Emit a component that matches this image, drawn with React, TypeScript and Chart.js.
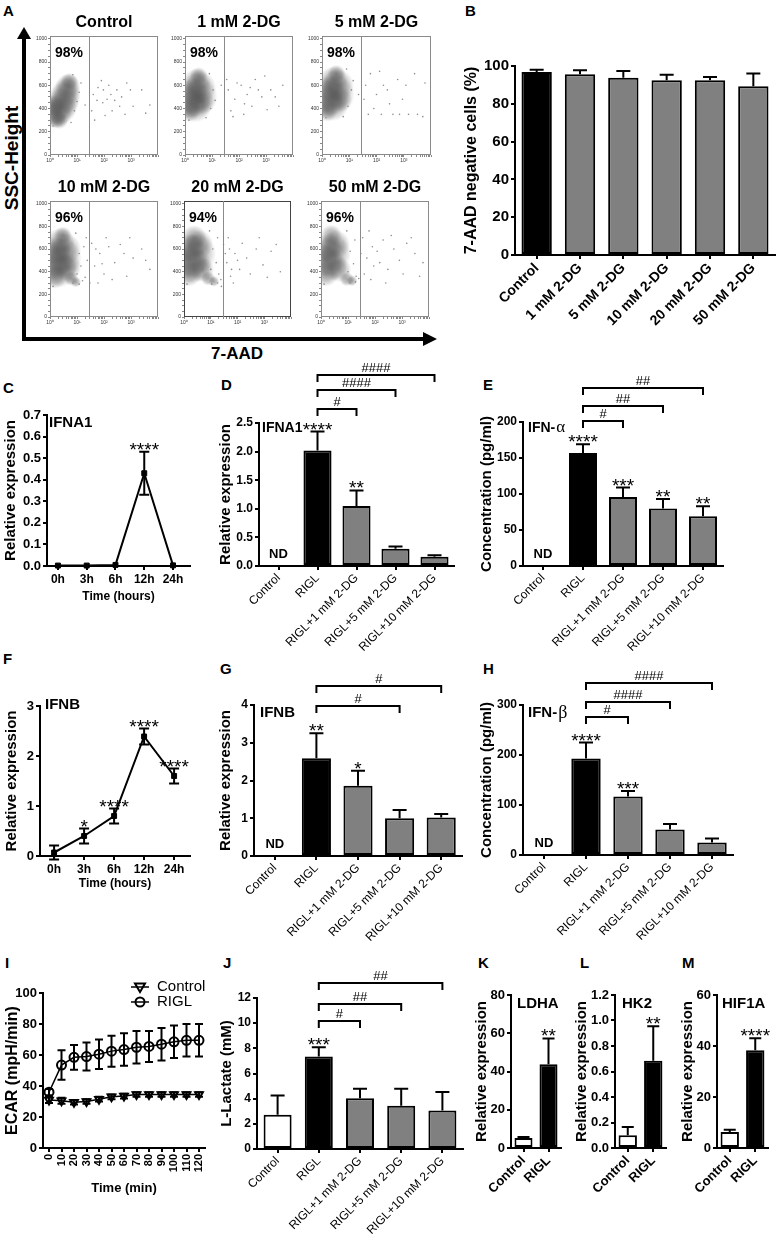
import React, { useEffect, useRef } from "react";
import { Chart, registerables } from "chart.js";

Chart.register(...registerables);

const FONT = "'Liberation Sans', Arial, Helvetica, sans-serif";
const SERIF = "'Liberation Serif', 'DejaVu Serif', 'Times New Roman', serif";
const BLACK = "#000000";
const GRAY = "#808080";
const WHITE = "#ffffff";

// ================= DATA =================
// ---- A: flow cytometry (7-AAD vs SSC-Height) ----
const flowTitles = ["Control", "1 mM 2-DG", "5 mM 2-DG", "10 mM 2-DG", "20 mM 2-DG", "50 mM 2-DG"];
const flowPercents = ["98%", "98%", "98%", "96%", "94%", "96%"];
const flowGate = 28;
const flowXTickValues = [1, 10, 100, 1000];
const flowXTickLabels = ["10\u2070", "10\u00b9", "10\u00b2", "10\u00b3"];
const flowYTicks = [0, 200, 400, 600, 800, 1000];
// dense populations: [7-AAD, SSC-Height, spread]
const flowCloudControl = [[1.5, 320, 6], [1.9, 360, 8], [2.4, 400, 9], [2.9, 440, 9], [3.4, 490, 9], [4.0, 540, 8], [4.6, 590, 7], [5.2, 630, 5], [1.4, 420, 6], [2.2, 300, 5]];
const flowCloud1mM = [[1.6, 460, 9], [2.4, 420, 9], [3.0, 500, 11], [3.6, 580, 9], [2.6, 620, 8], [2.0, 540, 8], [4.2, 460, 7], [1.5, 380, 6], [3.2, 680, 5]];
const flowCloud5mM = [[1.6, 470, 9], [2.4, 430, 9], [3.0, 520, 11], [3.8, 600, 9], [2.6, 640, 8], [2.0, 560, 8], [4.4, 480, 7], [1.5, 380, 6], [3.4, 700, 5]];
const flowCloud10mM = [[1.5, 480, 10], [2.2, 420, 10], [2.8, 520, 11], [3.6, 600, 9], [2.4, 660, 8], [1.8, 580, 8], [4.2, 440, 8], [1.5, 360, 7], [3.0, 720, 5], [6, 340, 4], [9, 310, 3]];
const flowCloud20mM = [[1.6, 500, 10], [2.3, 460, 10], [2.9, 560, 11], [3.6, 640, 8], [2.4, 700, 7], [1.8, 610, 8], [4.5, 420, 7], [1.5, 380, 7], [8, 340, 4], [13, 315, 3]];
const flowCloud50mM = [[1.6, 500, 9], [2.3, 460, 9], [2.8, 560, 10], [3.5, 640, 8], [2.4, 720, 6], [1.8, 610, 8], [4.5, 420, 7], [1.5, 380, 7], [9, 335, 4], [14, 320, 3]];
// scattered events: [7-AAD, SSC-Height]
const flowDotsControl = [[40, 520], [60, 580], [90, 450], [150, 600], [200, 380], [300, 560], [450, 500], [700, 620], [1200, 420], [2500, 560], [35, 380], [110, 340], [600, 350], [5000, 430], [80, 640], [250, 470], [45, 300], [180, 520], [8, 380], [10, 460], [12, 540], [7, 690], [14, 620], [1.3, 250], [6, 280], [20, 430], [130, 480], [380, 420], [950, 560], [3500, 360], [55, 470], [95, 560]];
const flowDots1mM = [[40, 560], [70, 480], [120, 600], [200, 520], [400, 650], [700, 500], [1500, 560], [3000, 420], [50, 380], [300, 420], [900, 680], [150, 350], [35, 650], [2200, 500], [9, 400], [11, 560], [8, 700], [13, 470], [1.4, 300], [6, 320], [22, 600], [85, 620], [160, 440], [520, 560], [1100, 390], [4200, 600], [60, 330], [260, 580]];
const flowDots5mM = [[40, 600], [60, 700], [100, 520], [150, 350], [250, 560], [400, 350], [600, 650], [900, 480], [1500, 350], [2500, 700], [5000, 330], [80, 400], [300, 440], [6000, 620], [35, 480], [9, 420], [12, 560], [8, 740], [14, 640], [1.4, 320], [6, 330], [22, 520], [180, 600], [700, 350], [1200, 600], [3200, 350], [50, 350], [130, 720]];
const flowDots10mM = [[20, 350], [35, 650], [45, 450], [70, 560], [100, 380], [150, 620], [250, 480], [400, 640], [700, 360], [1200, 520], [2500, 600], [5000, 420], [60, 300], [30, 300], [24, 500], [22, 700], [10, 380], [12, 560], [9, 740], [14, 450], [16, 320], [1.3, 270], [18, 620], [85, 470], [200, 330], [550, 560], [900, 700], [3500, 500], [50, 600], [120, 700], [12, 290], [7, 300]];
const flowDots20mM = [[35, 560], [50, 600], [60, 420], [45, 700], [100, 500], [150, 650], [300, 380], [500, 600], [900, 460], [1800, 580], [4000, 400], [25, 270], [70, 300], [40, 480], [30, 640], [10, 420], [12, 600], [9, 760], [16, 480], [20, 380], [1.3, 290], [18, 700], [80, 560], [220, 520], [650, 700], [1300, 350], [2800, 640], [55, 360], [120, 420], [18, 300], [11, 290], [24, 330]];
const flowDots50mM = [[35, 700], [50, 520], [80, 620], [120, 580], [200, 680], [300, 420], [500, 600], [800, 500], [1500, 650], [3000, 560], [6000, 480], [40, 380], [250, 300], [30, 560], [60, 760], [10, 400], [12, 580], [9, 760], [16, 470], [20, 360], [1.3, 290], [18, 680], [90, 450], [400, 720], [1100, 380], [2200, 700], [4500, 360], [70, 330], [150, 480], [19, 310], [12, 300], [25, 340]];
const flowClouds = [flowCloudControl, flowCloud1mM, flowCloud5mM, flowCloud10mM, flowCloud20mM, flowCloud50mM];
const flowDots = [flowDotsControl, flowDots1mM, flowDots5mM, flowDots10mM, flowDots20mM, flowDots50mM];

// ---- B ----
const bCategories = ["Control", "1 mM 2-DG", "5 mM 2-DG", "10 mM 2-DG", "20 mM 2-DG", "50 mM 2-DG"];
const bValues = [96.8, 95.6, 93.8, 92.4, 92.4, 89.3];
const bErrors = [1.2, 2.1, 3.6, 3.0, 1.8, 6.7];
const bYTicks = [0, 20, 40, 60, 80, 100];

// ---- shared categories ----
const rCategories = ["Control", "RIGL", "RIGL+1 mM 2-DG", "RIGL+5 mM 2-DG", "RIGL+10 mM 2-DG"];
const timeCategories = ["0h", "3h", "6h", "12h", "24h"];

// ---- C ----
const cValues = [0.002, 0.002, 0.005, 0.43, 0.003];
const cErrors = [0, 0, 0.002, 0.1, 0.002];
const cStars = ["", "", "", "****", ""];
const cYTicks = [0, 0.1, 0.2, 0.3, 0.4, 0.5, 0.6, 0.7];

// ---- D ----
const dValues = [null, 2.02, 1.05, 0.3, 0.16];
const dErrors = [0, 0.33, 0.27, 0.04, 0.03];
const dStars = ["", "****", "**", "", ""];
const dBracketTargets = [2, 3, 4];
const dBracketLabels = ["#", "####", "####"];
const dBracketLevels = [2.745, 3.07, 3.34];
const dYTicks = [0, 0.5, 1, 1.5, 2, 2.5];

// ---- E ----
const eValues = [null, 157, 96, 80, 69];
const eErrors = [0, 12, 13, 13, 14];
const eStars = ["", "****", "***", "**", "**"];
const eBracketTargets = [2, 3, 4];
const eBracketLabels = ["#", "##", "##"];
const eBracketLevels = [202, 222, 247];
const eYTicks = [0, 50, 100, 150, 200];

// ---- F ----
const fValues = [0.07, 0.4, 0.8, 2.39, 1.6];
const fErrors = [0.14, 0.15, 0.15, 0.16, 0.15];
const fStars = ["", "*", "****", "****", "****"];
const fYTicks = [0, 1, 2, 3];

// ---- G ----
const gValues = [null, 2.59, 1.86, 1.0, 1.02];
const gErrors = [0, 0.66, 0.4, 0.22, 0.09];
const gStars = ["", "**", "*", "", ""];
const gBracketTargets = [3, 4];
const gBracketLabels = ["#", "#"];
const gBracketLevels = [3.97, 4.5];
const gYTicks = [0, 1, 2, 3, 4];

// ---- H ----
const hValues = [null, 193, 117, 51, 25];
const hErrors = [0, 32, 11, 11, 8];
const hStars = ["", "****", "***", "", ""];
const hBracketTargets = [2, 3, 4];
const hBracketLabels = ["#", "####", "####"];
const hBracketLevels = [276, 306, 344];
const hYTicks = [0, 100, 200, 300];

// ---- I ----
const iTimes = [0, 10, 20, 30, 40, 50, 60, 70, 80, 90, 100, 110, 120];
const iControl = [31, 30.5, 29.5, 30, 31.5, 33, 33.5, 34.5, 34.5, 34.5, 34.5, 34.5, 34.5];
const iControlErr = [2, 2, 1.5, 1.5, 1.5, 1.5, 1.5, 1.5, 1.5, 1.5, 1.5, 1.5, 1.5];
const iRigl = [36, 53.5, 58.5, 59, 60.5, 62.5, 63.5, 65, 65.5, 67, 68.5, 69.5, 69.5];
const iRiglErr = [2, 9.5, 8, 9, 9.5, 10, 10.5, 10.5, 10, 10.5, 10.5, 10.5, 10.5];
const iYTicks = [0, 20, 40, 60, 80, 100];
const iSeriesNames = ["Control", "RIGL"];

// ---- J ----
const jValues = [2.73, 7.36, 4.03, 3.44, 3.05];
const jErrors = [1.53, 0.72, 0.76, 1.35, 1.48];
const jStars = ["", "***", "", "", ""];
const jBracketTargets = [2, 3, 4];
const jBracketLabels = ["#", "##", "##"];
const jBracketLevels = [10.14, 11.55, 13.2];
const jYTicks = [0, 2, 4, 6, 8, 10, 12];

// ---- K, L, M ----
const kmCategories = ["Control", "RIGL"];
const kValues = [5.2, 43.8];
const kErrors = [0.5, 13.5];
const kStars = ["", "**"];
const kYTicks = [0, 20, 40, 60, 80];
const lValues = [0.1, 0.685];
const lErrors = [0.065, 0.27];
const lStars = ["", "**"];
const lYTicks = [0, 0.2, 0.4, 0.6, 0.8, 1.0, 1.2];
const mValues = [6.3, 38.3];
const mErrors = [0.9, 4.7];
const mStars = ["", "****"];
const mYTicks = [0, 20, 40, 60];

// ================= LAYOUT =================
const flowAreas = [
  { l: 50, t: 36, r: 158, b: 155 },
  { l: 185, t: 36, r: 293, b: 155 },
  { l: 322, t: 36, r: 431, b: 155 },
  { l: 50, t: 201, r: 158, b: 317 },
  { l: 184, t: 201, r: 291, b: 317 },
  { l: 321, t: 201, r: 429, b: 317 },
];

const baseOptions = (p: any) => ({
  responsive: false,
  maintainAspectRatio: false,
  animation: false,
  devicePixelRatio: 1,
  events: [],
  layout: {
    autoPadding: false,
    padding: { top: p.area.t - p.canvas.t, right: p.canvas.r - p.area.r, left: 0, bottom: 0 },
  },
  plugins: { legend: { display: false }, tooltip: { enabled: false }, title: { display: false } },
});

function axisY(p: any) {
  return {
    type: "linear",
    min: p.yTicks[0],
    max: p.yTicks[p.yTicks.length - 1],
    afterBuildTicks: (s: any) => {
      s.ticks = p.yTicks.map((v: number) => ({ value: v }));
    },
    ticks: {
      color: BLACK,
      font: { family: FONT, size: p.yTickSize, weight: "bold" },
      padding: 2,
      callback: (v: any) => Number(v).toFixed(p.yDec || 0),
    },
    grid: { display: true, drawOnChartArea: false, drawTicks: true, tickLength: 4, color: BLACK, lineWidth: 2 },
    border: { display: true, color: BLACK, width: 2 },
    title: {
      display: true,
      text: p.yTitle,
      color: BLACK,
      font: { family: FONT, size: p.yTitleSize, weight: "bold", lineHeight: 1.2 },
      padding: 0,
    },
    afterFit: (s: any) => {
      s.width = p.area.l - p.canvas.l;
      s.paddingTop = 0;
      s.paddingBottom = 0;
    },
  };
}

function axisXCat(p: any) {
  return {
    type: "category",
    offset: true,
    grid: { display: true, drawOnChartArea: false, offset: false, tickLength: 4, color: BLACK, lineWidth: 2 },
    border: { display: true, color: BLACK, width: 2 },
    ticks: {
      color: BLACK,
      font: { family: FONT, size: p.xTickSize, weight: p.xTickWeight },
      minRotation: 45,
      maxRotation: 45,
      autoSkip: false,
      padding: 1,
    },
    afterFit: (s: any) => {
      s.height = p.canvas.b - p.area.b;
      s.paddingLeft = 0;
      s.paddingRight = 0;
    },
  };
}

function drawGene(ctx: any, a: any, g: any) {
  if (!g) return;
  ctx.save();
  ctx.fillStyle = BLACK;
  ctx.textAlign = "left";
  ctx.textBaseline = "middle";
  ctx.font = `bold ${g.size}px ${FONT}`;
  const x = a.left + g.dx;
  const y = a.top + g.dy;
  ctx.fillText(g.text, x, y);
  if (g.greek) {
    const w = ctx.measureText(g.text).width;
    ctx.font = `${g.size + 3}px ${SERIF}`;
    ctx.fillText(g.greek, x + w + 1, y);
  }
  ctx.restore();
}

function drawStar(ctx: any, text: string, x: number, yTop: number) {
  if (!text) return;
  ctx.save();
  ctx.fillStyle = BLACK;
  ctx.font = `19px ${FONT}`;
  ctx.textAlign = "center";
  ctx.textBaseline = "alphabetic";
  ctx.fillText(text, x, yTop + 4);
  ctx.restore();
}

function barOverlay(p: any) {
  return {
    id: "barOverlay",
    afterDatasetsDraw(chart: any) {
      const { ctx, chartArea } = chart;
      const xs = chart.scales.x;
      const ys = chart.scales.y;
      ctx.save();
      ctx.strokeStyle = BLACK;
      ctx.fillStyle = BLACK;
      ctx.lineWidth = 2;
      p.values.forEach((v: any, i: number) => {
        const px = xs.getPixelForValue(i);
        if (v == null) {
          ctx.font = `bold 13px ${FONT}`;
          ctx.textAlign = "center";
          ctx.textBaseline = "alphabetic";
          ctx.fillText("ND", px, chartArea.bottom - 8);
          return;
        }
        const e = p.errors[i] || 0;
        const y0 = ys.getPixelForValue(v);
        const y1 = ys.getPixelForValue(v + e);
        if (e > 0) {
          ctx.beginPath();
          ctx.moveTo(px, y0);
          ctx.lineTo(px, y1);
          ctx.moveTo(px - p.cap, y1);
          ctx.lineTo(px + p.cap, y1);
          ctx.stroke();
        }
        drawStar(ctx, p.stars ? p.stars[i] : "", px, y1);
      });
      if (p.bracketTargets) {
        p.bracketTargets.forEach((to: number, k: number) => {
          const x1 = xs.getPixelForValue(1);
          const x2 = xs.getPixelForValue(to);
          const y = Math.round(ys.getPixelForValue(p.bracketLevels[k]));
          ctx.beginPath();
          ctx.moveTo(x1, y + 7);
          ctx.lineTo(x1, y);
          ctx.lineTo(x2, y);
          ctx.lineTo(x2, y + 7);
          ctx.stroke();
          ctx.font = `13px ${FONT}`;
          ctx.textAlign = "center";
          ctx.textBaseline = "alphabetic";
          ctx.fillText(p.bracketLabels[k], (x1 + x2) / 2, y - 3);
        });
      }
      ctx.restore();
      drawGene(ctx, chartArea, p.gene);
    },
  };
}

function barChart(p: any) {
  return {
    type: "bar",
    data: {
      labels: p.labels,
      datasets: [
        {
          data: p.values,
          backgroundColor: p.fills,
          borderColor: BLACK,
          borderWidth: 2,
          borderSkipped: false,
          barPercentage: p.barPct,
          categoryPercentage: 1,
        },
      ],
    },
    options: { ...baseOptions(p), scales: { x: axisXCat(p), y: axisY(p) } },
    plugins: [barOverlay(p)],
  };
}

function lineChart(p: any) {
  return {
    type: "line",
    data: {
      datasets: [
        {
          data: p.values.map((v: number, i: number) => ({ x: i, y: v })),
          borderColor: BLACK,
          borderWidth: 2,
          pointStyle: "rect",
          pointRadius: 3.5,
          pointBackgroundColor: BLACK,
          pointBorderColor: BLACK,
          pointBorderWidth: 1,
          tension: 0,
          clip: false,
        },
      ],
    },
    options: {
      ...baseOptions(p),
      scales: {
        x: {
          type: "linear",
          min: p.xMin,
          max: p.xMax,
          afterBuildTicks: (s: any) => {
            s.ticks = p.labels.map((_: any, i: number) => ({ value: i }));
          },
          ticks: {
            color: BLACK,
            font: { family: FONT, size: 12, weight: "bold" },
            autoSkip: false,
            minRotation: 0,
            maxRotation: 0,
            padding: 2,
            callback: (v: any) => p.labels[Math.round(v)] ?? "",
          },
          grid: { display: true, drawOnChartArea: false, tickLength: 4, color: BLACK, lineWidth: 2 },
          border: { display: true, color: BLACK, width: 2 },
          title: {
            display: true,
            text: "Time (hours)",
            color: BLACK,
            font: { family: FONT, size: 12, weight: "bold", lineHeight: 1.2 },
            padding: 0,
          },
          afterFit: (s: any) => {
            s.height = p.canvas.b - p.area.b;
            s.paddingLeft = 0;
            s.paddingRight = 0;
          },
        },
        y: axisY(p),
      },
    },
    plugins: [
      {
        id: "lineOverlay",
        beforeDatasetsDraw(chart: any) {
          const { ctx } = chart;
          const xs = chart.scales.x;
          const ys = chart.scales.y;
          ctx.save();
          ctx.strokeStyle = BLACK;
          ctx.lineWidth = 2;
          p.values.forEach((v: number, i: number) => {
            const e = p.errors[i];
            if (!e || e < 0.01) return;
            const x = xs.getPixelForValue(i);
            const y1 = ys.getPixelForValue(v + e);
            const y2 = ys.getPixelForValue(v - e);
            ctx.beginPath();
            ctx.moveTo(x, y1);
            ctx.lineTo(x, y2);
            ctx.moveTo(x - 5, y1);
            ctx.lineTo(x + 5, y1);
            ctx.moveTo(x - 5, y2);
            ctx.lineTo(x + 5, y2);
            ctx.stroke();
          });
          ctx.restore();
        },
        afterDatasetsDraw(chart: any) {
          const { ctx, chartArea } = chart;
          const xs = chart.scales.x;
          const ys = chart.scales.y;
          p.values.forEach((v: number, i: number) => {
            drawStar(ctx, p.stars[i], xs.getPixelForValue(i), ys.getPixelForValue(v + p.errors[i]));
          });
          drawGene(ctx, chartArea, p.gene);
        },
      },
    ],
  };
}

function flowChart(i: number) {
  const area = flowAreas[i];
  const canvas = { l: area.l - 22, t: area.t - 30, r: area.r + 4, b: area.b + 14 };
  const p = { area, canvas };
  const xTicks: number[] = [];
  [1, 10, 100, 1000].forEach((d) => {
    for (let m = 1; m < 10; m++) xTicks.push(m * d);
  });
  xTicks.push(10000);
  const yTicks: number[] = [];
  for (let v = 0; v <= 1000; v += 50) yTicks.push(v);
  return {
    canvas,
    config: {
      type: "bubble",
      data: {
        datasets: [
          {
            data: flowClouds[i].map(([x, y, r]) => ({ x, y, r })),
            backgroundColor: "rgba(0,0,0,0)",
            borderWidth: 0,
            clip: 0,
          },
          {
            data: flowDots[i].map(([x, y]) => ({ x, y, r: 0.8 })),
            backgroundColor: "#8e8e8e",
            borderWidth: 0,
            clip: 0,
          },
        ],
      },
      options: {
        ...baseOptions(p),
        scales: {
          x: {
            type: "logarithmic",
            min: 1,
            max: 10000,
            afterBuildTicks: (s: any) => {
              s.ticks = xTicks.map((v) => ({ value: v }));
            },
            ticks: {
              color: "#333",
              font: { family: FONT, size: 5 },
              autoSkip: false,
              minRotation: 0,
              maxRotation: 0,
              padding: 1,
              callback: (v: any) => {
                const k = flowXTickValues.indexOf(Number(v));
                return k >= 0 ? flowXTickLabels[k] : "";
              },
            },
            grid: { display: true, drawOnChartArea: false, tickLength: 2, color: "#555", lineWidth: 0.7 },
            border: { display: false },
            afterFit: (s: any) => {
              s.height = canvas.b - area.b;
              s.paddingLeft = 0;
              s.paddingRight = 0;
            },
          },
          y: {
            type: "linear",
            min: 0,
            max: 1024,
            afterBuildTicks: (s: any) => {
              s.ticks = yTicks.map((v) => ({ value: v }));
            },
            ticks: {
              color: "#333",
              font: { family: FONT, size: 5 },
              padding: 1,
              autoSkip: false,
              callback: (v: any) => (flowYTicks.indexOf(Number(v)) >= 0 ? String(v) : ""),
            },
            grid: { display: true, drawOnChartArea: false, tickLength: 2, color: "#555", lineWidth: 0.7 },
            border: { display: false },
            afterFit: (s: any) => {
              s.width = area.l - canvas.l;
              s.paddingTop = 0;
              s.paddingBottom = 0;
            },
          },
        },
      },
      plugins: [
        {
          id: "flowCloud",
          beforeDatasetsDraw(chart: any) {
            const { ctx, chartArea: a } = chart;
            const xs = chart.scales.x;
            const ys = chart.scales.y;
            ctx.save();
            ctx.beginPath();
            ctx.rect(a.left, a.top, a.right - a.left, a.bottom - a.top);
            ctx.clip();
            flowClouds[i].forEach(([x, y, r]) => {
              const px = xs.getPixelForValue(x);
              const py = ys.getPixelForValue(y);
              const R = r * 1.8;
              const g = ctx.createRadialGradient(px, py, 0, px, py, R);
              g.addColorStop(0, "rgba(80,80,80,0.5)");
              g.addColorStop(0.55, "rgba(80,80,80,0.32)");
              g.addColorStop(1, "rgba(80,80,80,0)");
              ctx.fillStyle = g;
              ctx.beginPath();
              ctx.arc(px, py, R, 0, Math.PI * 2);
              ctx.fill();
            });
            ctx.restore();
          },
          afterDraw(chart: any) {
            const { ctx, chartArea: a } = chart;
            const xs = chart.scales.x;
            ctx.save();
            ctx.strokeStyle = i === 4 ? "#444" : "#8a8a8a";
            ctx.lineWidth = 1;
            ctx.strokeRect(a.left + 0.5, a.top + 0.5, a.right - a.left - 1, a.bottom - a.top - 1);
            ctx.strokeStyle = "#8a8a8a";
            const gx = Math.round(xs.getPixelForValue(flowGate)) + 0.5;
            ctx.beginPath();
            ctx.moveTo(gx, a.top);
            ctx.lineTo(gx, a.bottom);
            ctx.stroke();
            ctx.fillStyle = BLACK;
            ctx.font = `bold 16px ${FONT}`;
            ctx.textAlign = "center";
            ctx.textBaseline = "middle";
            ctx.fillText(flowTitles[i], (a.left + a.right) / 2, a.top - 13);
            ctx.font = `bold 14px ${FONT}`;
            ctx.textAlign = "left";
            ctx.fillText(flowPercents[i], a.left + 5, a.top + 17);
            ctx.restore();
          },
        },
      ],
    },
  };
}

function iChart() {
  const p = {
    canvas: { l: 3, t: 975, r: 215, b: 1196 },
    area: { l: 43, t: 993, r: 205, b: 1148 },
    yTicks: iYTicks,
    yDec: 0,
    yTitle: "ECAR (mpH/min)",
    yTitleSize: 16,
    yTickSize: 13,
  };
  const mk = (vals: number[], label: string, style: string) => ({
    label,
    data: vals.map((v, k) => ({ x: iTimes[k], y: v })),
    borderColor: BLACK,
    borderWidth: 1.5,
    pointStyle: style,
    rotation: style === "triangle" ? 180 : 0,
    pointRadius: 4.5,
    pointBackgroundColor: "rgba(0,0,0,0)",
    pointBorderColor: BLACK,
    pointBorderWidth: 2,
    tension: 0,
    clip: false,
  });
  const drawMarker = (ctx: any, style: string, x: number, y: number) => {
    ctx.beginPath();
    if (style === "triangle") {
      ctx.moveTo(x - 5, y - 3.5);
      ctx.lineTo(x + 5, y - 3.5);
      ctx.lineTo(x, y + 5);
      ctx.closePath();
    } else {
      ctx.arc(x, y, 4.5, 0, Math.PI * 2);
    }
    ctx.stroke();
  };
  return {
    canvas: p.canvas,
    config: {
      type: "line",
      data: { datasets: [mk(iControl, iSeriesNames[0], "triangle"), mk(iRigl, iSeriesNames[1], "circle")] },
      options: {
        ...baseOptions(p),
        scales: {
          x: {
            type: "linear",
            min: -4.8,
            max: 124.8,
            afterBuildTicks: (s: any) => {
              s.ticks = iTimes.map((v) => ({ value: v }));
            },
            ticks: {
              color: BLACK,
              font: { family: FONT, size: 11, weight: "bold" },
              autoSkip: false,
              minRotation: 90,
              maxRotation: 90,
              padding: 2,
            },
            grid: { display: true, drawOnChartArea: false, tickLength: 4, color: BLACK, lineWidth: 2 },
            border: { display: true, color: BLACK, width: 2 },
            title: {
              display: true,
              text: "Time (min)",
              color: BLACK,
              font: { family: FONT, size: 13, weight: "bold", lineHeight: 1.2 },
              padding: 0,
            },
            afterFit: (s: any) => {
              s.height = p.canvas.b - p.area.b;
              s.paddingLeft = 0;
              s.paddingRight = 0;
            },
          },
          y: axisY(p),
        },
      },
      plugins: [
        {
          id: "iOverlay",
          beforeDatasetsDraw(chart: any) {
            const { ctx } = chart;
            const xs = chart.scales.x;
            const ys = chart.scales.y;
            ctx.save();
            ctx.strokeStyle = BLACK;
            ctx.lineWidth = 2;
            const sets: [number[], number[]][] = [
              [iControl, iControlErr],
              [iRigl, iRiglErr],
            ];
            sets.forEach(([vals, errs]) => {
              vals.forEach((v, k) => {
                const x = xs.getPixelForValue(iTimes[k]);
                const y1 = ys.getPixelForValue(v + errs[k]);
                const y2 = ys.getPixelForValue(v - errs[k]);
                ctx.beginPath();
                ctx.moveTo(x, y1);
                ctx.lineTo(x, y2);
                ctx.moveTo(x - 4, y1);
                ctx.lineTo(x + 4, y1);
                ctx.moveTo(x - 4, y2);
                ctx.lineTo(x + 4, y2);
                ctx.stroke();
              });
            });
            ctx.restore();
          },
          afterDraw(chart: any) {
            const { ctx, chartArea: a } = chart;
            ctx.save();
            ctx.strokeStyle = BLACK;
            ctx.fillStyle = BLACK;
            const styles = ["triangle", "circle"];
            iSeriesNames.forEach((name, k) => {
              const y = a.top - 6 + k * 15;
              const mx = a.left + 97;
              ctx.lineWidth = 1.5;
              ctx.beginPath();
              ctx.moveTo(mx - 9, y);
              ctx.lineTo(mx + 9, y);
              ctx.stroke();
              ctx.lineWidth = 2;
              drawMarker(ctx, styles[k], mx, y);
              ctx.font = `15px ${FONT}`;
              ctx.textAlign = "left";
              ctx.textBaseline = "middle";
              ctx.fillText(name, a.left + 114, y);
            });
            ctx.restore();
          },
        },
      ],
    },
  };
}

// ---------- panel specs ----------
const specB = {
  canvas: { l: 462, t: 40, r: 778, b: 330 },
  area: { l: 515, t: 66, r: 775, b: 255 },
  labels: bCategories, values: bValues, errors: bErrors,
  fills: [BLACK, GRAY, GRAY, GRAY, GRAY, GRAY],
  yTicks: bYTicks, yDec: 0, yTitle: "7-AAD negative cells (%)", yTitleSize: 16, yTickSize: 15,
  xTickSize: 14, xTickWeight: "bold", cap: 7, barPct: 0.7,
};
const specC = {
  canvas: { l: 2, t: 395, r: 200, b: 604 },
  area: { l: 47, t: 415, r: 190, b: 566 },
  labels: timeCategories, values: cValues, errors: cErrors, stars: cStars,
  xMin: -0.38, xMax: 4.59,
  yTicks: cYTicks, yDec: 1, yTitle: "Relative expression", yTitleSize: 15, yTickSize: 13,
  gene: { text: "IFNA1", dx: 2, dy: 8, size: 15 },
};
const specD = {
  canvas: { l: 217, t: 355, r: 470, b: 665 },
  area: { l: 259, t: 423, r: 454, b: 566 },
  labels: rCategories, values: dValues, errors: dErrors, stars: dStars,
  fills: [WHITE, BLACK, GRAY, GRAY, GRAY],
  bracketTargets: dBracketTargets, bracketLabels: dBracketLabels, bracketLevels: dBracketLevels,
  yTicks: dYTicks, yDec: 1, yTitle: "Relative expression", yTitleSize: 15, yTickSize: 12,
  xTickSize: 12, xTickWeight: "normal", cap: 7, barPct: 0.72,
  gene: { text: "IFNA1", dx: 3, dy: 5, size: 14 },
};
const specE = {
  canvas: { l: 478, t: 365, r: 778, b: 665 },
  area: { l: 523, t: 422, r: 723, b: 566 },
  labels: rCategories, values: eValues, errors: eErrors, stars: eStars,
  fills: [WHITE, BLACK, GRAY, GRAY, GRAY],
  bracketTargets: eBracketTargets, bracketLabels: eBracketLabels, bracketLevels: eBracketLevels,
  yTicks: eYTicks, yDec: 0, yTitle: "Concentration (pg/ml)", yTitleSize: 15, yTickSize: 12,
  xTickSize: 12, xTickWeight: "normal", cap: 7, barPct: 0.7,
  gene: { text: "IFN-", greek: "\u03b1", dx: 5, dy: 6, size: 14 },
};
const specF = {
  canvas: { l: 3, t: 680, r: 205, b: 891 },
  area: { l: 40, t: 706, r: 190, b: 856 },
  labels: timeCategories, values: fValues, errors: fErrors, stars: fStars,
  xMin: -0.47, xMax: 4.53,
  yTicks: fYTicks, yDec: 0, yTitle: "Relative expression", yTitleSize: 15, yTickSize: 13,
  gene: { text: "IFNB", dx: 5, dy: -1, size: 15 },
};
const specG = {
  canvas: { l: 217, t: 665, r: 470, b: 955 },
  area: { l: 254, t: 705, r: 462, b: 856 },
  labels: rCategories, values: gValues, errors: gErrors, stars: gStars,
  fills: [WHITE, BLACK, GRAY, GRAY, GRAY],
  bracketTargets: gBracketTargets, bracketLabels: gBracketLabels, bracketLevels: gBracketLevels,
  yTicks: gYTicks, yDec: 0, yTitle: "Relative expression", yTitleSize: 15, yTickSize: 12,
  xTickSize: 12, xTickWeight: "normal", cap: 7, barPct: 0.7,
  gene: { text: "IFNB", dx: 6, dy: 8, size: 15 },
};
const specH = {
  canvas: { l: 478, t: 655, r: 778, b: 955 },
  area: { l: 523, t: 705, r: 733, b: 855 },
  labels: rCategories, values: hValues, errors: hErrors, stars: hStars,
  fills: [WHITE, BLACK, GRAY, GRAY, GRAY],
  bracketTargets: hBracketTargets, bracketLabels: hBracketLabels, bracketLevels: hBracketLevels,
  yTicks: hYTicks, yDec: 0, yTitle: "Concentration (pg/ml)", yTitleSize: 15, yTickSize: 12,
  xTickSize: 12, xTickWeight: "normal", cap: 7, barPct: 0.7,
  gene: { text: "IFN-", greek: "\u03b2", dx: 5, dy: 8, size: 15 },
};
const specJ = {
  canvas: { l: 218, t: 960, r: 470, b: 1240 },
  area: { l: 257, t: 998, r: 463, b: 1149 },
  labels: rCategories, values: jValues, errors: jErrors, stars: jStars,
  fills: [WHITE, BLACK, GRAY, GRAY, GRAY],
  bracketTargets: jBracketTargets, bracketLabels: jBracketLabels, bracketLevels: jBracketLevels,
  yTicks: jYTicks, yDec: 0, yTitle: "L-Lactate (mM)", yTitleSize: 15, yTickSize: 12,
  xTickSize: 12, xTickWeight: "normal", cap: 7, barPct: 0.68,
};
const specK = {
  canvas: { l: 473, t: 975, r: 570, b: 1240 },
  area: { l: 511, t: 995, r: 561, b: 1148 },
  labels: kmCategories, values: kValues, errors: kErrors, stars: kStars,
  fills: [WHITE, BLACK],
  yTicks: kYTicks, yDec: 0, yTitle: "Relative expression", yTitleSize: 15, yTickSize: 13,
  xTickSize: 13, xTickWeight: "bold", cap: 6, barPct: 0.72,
  gene: { text: "LDHA", dx: 6, dy: 9, size: 15 },
};
const specL = {
  canvas: { l: 573, t: 975, r: 672, b: 1240 },
  area: { l: 615, t: 995, r: 666, b: 1148 },
  labels: kmCategories, values: lValues, errors: lErrors, stars: lStars,
  fills: [WHITE, BLACK],
  yTicks: lYTicks, yDec: 1, yTitle: "Relative expression", yTitleSize: 15, yTickSize: 13,
  xTickSize: 13, xTickWeight: "bold", cap: 6, barPct: 0.72,
  gene: { text: "HK2", dx: 7, dy: 9, size: 15 },
};
const specM = {
  canvas: { l: 679, t: 975, r: 778, b: 1240 },
  area: { l: 717, t: 995, r: 768, b: 1148 },
  labels: kmCategories, values: mValues, errors: mErrors, stars: mStars,
  fills: [WHITE, BLACK],
  yTicks: mYTicks, yDec: 0, yTitle: "Relative expression", yTitleSize: 15, yTickSize: 13,
  xTickSize: 13, xTickWeight: "bold", cap: 6, barPct: 0.72,
  gene: { text: "HIF1A", dx: 5, dy: 9, size: 15 },
};

const panelLetters = [
  { t: "A", l: 3, y: 3 },
  { t: "B", l: 465, y: 3 },
  { t: "C", l: 3, y: 380 },
  { t: "D", l: 221, y: 377 },
  { t: "E", l: 483, y: 377 },
  { t: "F", l: 3, y: 651 },
  { t: "G", l: 220, y: 661 },
  { t: "H", l: 483, y: 661 },
  { t: "I", l: 5, y: 955 },
  { t: "J", l: 223, y: 955 },
  { t: "K", l: 478, y: 955 },
  { t: "L", l: 580, y: 955 },
  { t: "M", l: 682, y: 955 },
];

function ChartBox({ make }: { make: () => any }) {
  const ref = useRef<HTMLCanvasElement | null>(null);
  const built = make();
  const c = built.canvas;
  const w = c.r - c.l;
  const h = c.b - c.t;
  useEffect(() => {
    const chart = new Chart(ref.current as HTMLCanvasElement, make().config);
    return () => chart.destroy();
  }, []);
  return (
    <canvas
      ref={ref}
      width={w}
      height={h}
      style={{ position: "absolute", left: c.l, top: c.t, width: w, height: h }}
    />
  );
}

const makers: (() => any)[] = [
  ...flowAreas.map((_, i) => () => flowChart(i)),
  () => ({ canvas: specB.canvas, config: barChart(specB) }),
  () => ({ canvas: specC.canvas, config: lineChart(specC) }),
  () => ({ canvas: specD.canvas, config: barChart(specD) }),
  () => ({ canvas: specE.canvas, config: barChart(specE) }),
  () => ({ canvas: specF.canvas, config: lineChart(specF) }),
  () => ({ canvas: specG.canvas, config: barChart(specG) }),
  () => ({ canvas: specH.canvas, config: barChart(specH) }),
  () => iChart(),
  () => ({ canvas: specJ.canvas, config: barChart(specJ) }),
  () => ({ canvas: specK.canvas, config: barChart(specK) }),
  () => ({ canvas: specL.canvas, config: barChart(specL) }),
  () => ({ canvas: specM.canvas, config: barChart(specM) }),
];

export default function App() {
  return (
    <div
      style={{
        position: "absolute",
        left: 0,
        top: 0,
        width: 778,
        height: 1240,
        background: WHITE,
        overflow: "hidden",
        fontFamily: FONT,
      }}
    >
      <svg width={778} height={360} style={{ position: "absolute", left: 0, top: 0 }}>
        <rect x={22} y={36} width={4} height={305} fill={BLACK} />
        <polygon points="17,39 31,39 24,27" fill={BLACK} />
        <rect x={22} y={337} width={403} height={4} fill={BLACK} />
        <polygon points="423,332 423,346 437,339" fill={BLACK} />
      </svg>
      <div
        style={{
          position: "absolute",
          left: 12,
          top: 158,
          transform: "translate(-50%, -50%) rotate(-90deg)",
          fontWeight: "bold",
          fontSize: 19,
          whiteSpace: "nowrap",
          lineHeight: "20px",
        }}
      >
        SSC-Height
      </div>
      <div
        style={{
          position: "absolute",
          left: 237,
          top: 354,
          transform: "translate(-50%, -50%)",
          fontWeight: "bold",
          fontSize: 17,
          whiteSpace: "nowrap",
          lineHeight: "20px",
        }}
      >
        7-AAD
      </div>
      {panelLetters.map((p) => (
        <div
          key={p.t}
          style={{
            position: "absolute",
            left: p.l,
            top: p.y,
            fontWeight: "bold",
            fontSize: 15,
            lineHeight: "15px",
          }}
        >
          {p.t}
        </div>
      ))}
      {makers.map((m, i) => (
        <ChartBox key={i} make={m} />
      ))}
    </div>
  );
}
